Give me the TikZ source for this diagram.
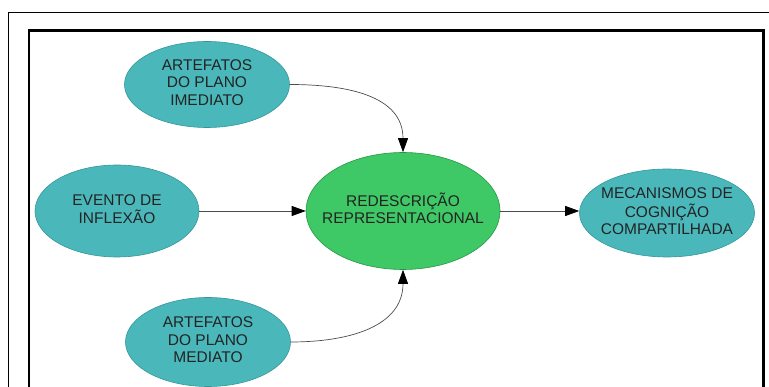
\documentclass[tikz,border=0pt]{standalone}
\usepackage{fontspec}
\setmainfont{Liberation Sans}
\usetikzlibrary{shapes.geometric,arrows.meta}
\definecolor{tealfill}{RGB}{74,184,186}
\definecolor{tealline}{RGB}{52,150,152}
\definecolor{greenfill}{RGB}{62,200,102}
\definecolor{greenline}{RGB}{40,150,70}
\definecolor{txt}{RGB}{35,35,35}
\newcommand{\elltext}[1]{\makebox[0pt][c]{\begin{tabular}{@{}c@{}}#1\end{tabular}}}
\tikzset{
  x=1pt, y=-1pt,
  ell/.style={ellipse, draw=tealline, line width=0.6pt, fill=tealfill, inner sep=0pt,
    text=txt, font=\fontsize{15.5}{17.5}\selectfont},
  gell/.style={ell, draw=greenline, fill=greenfill},
  arr/.style={draw=black!70, line width=0.7pt, -{Triangle[length=14pt,width=10pt,fill=black,color=black]}},
  frameouter/.style={draw=black, line width=1pt},
  frameinner/.style={draw=black, line width=2.5pt},
}
\begin{document}
\begin{tikzpicture}
\useasboundingbox (0,0) rectangle (769,387);
\draw[frameouter] (8,400) -- (8,12.7) -- (780,12.7);
\draw[frameinner] (29,400) -- (29,30.7) -- (763.5,30.7) -- (763.5,400);
\node[ell, minimum width=165, minimum height=86] (imed) at (207,84.5) {\elltext{ARTEFATOS\\DO PLANO\\IMEDIATO}};
\node[ell, minimum width=164, minimum height=92] (evento) at (117,211) {\elltext{EVENTO DE\\INFLEXÃO}};
\node[ell, minimum width=165, minimum height=89] (med) at (208,342) {\elltext{ARTEFATOS\\DO PLANO\\MEDIATO}};
\node[gell, minimum width=194, minimum height=117] (red) at (403,211) {\elltext{REDESCRIÇÃO\\REPRESENTACIONAL}};
\node[ell, minimum width=175, minimum height=88] (mec) at (667,213) {\elltext{MECANISMOS DE\\COGNIÇÃO\\COMPARTILHADA}};
\draw[arr] (imed.east) to[out=0,in=90,looseness=1.1] (red.north);
\draw[arr] (med.east) to[out=0,in=-90,looseness=1.1] (red.south);
\draw[arr] (evento.east) -- (red.west);
\draw[arr] (red.east) -- (red.east -| mec.west);
\end{tikzpicture}
\end{document}
